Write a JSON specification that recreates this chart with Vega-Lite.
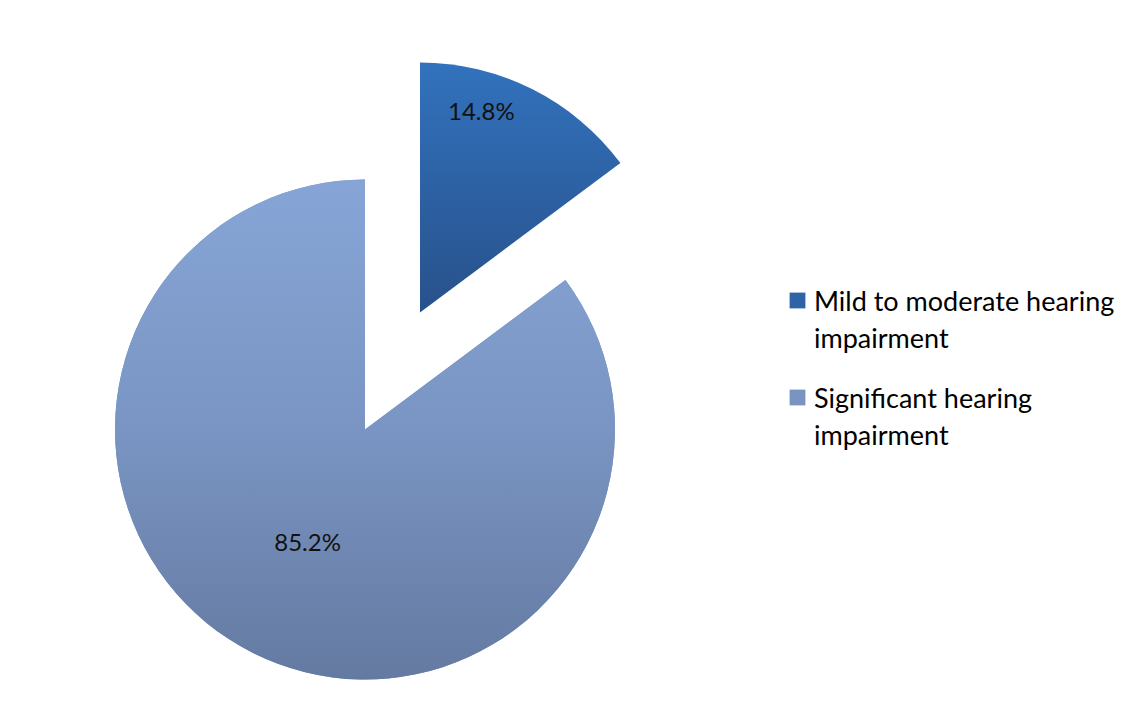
{
  "$schema": "https://vega.github.io/schema/vega-lite/v6.json",
  "autosize": {"type": "none"},
  "width": 730,
  "height": 585,
  "padding": {"left": 0, "top": 137, "right": 401, "bottom": 0},
  "background": "white",
  "data": {
    "values": [
      {"category": "Mild to moderate hearing impairment", "value": 14.8, "label": "14.8%", "order": 1},
      {"category": "Significant hearing impairment", "value": 85.2, "label": "85.2%", "order": 2}
    ]
  },
  "encoding": {
    "theta": {"field": "value", "type": "quantitative", "stack": true},
    "order": {"field": "order", "type": "quantitative"}
  },
  "layer": [
    {
      "mark": {"type": "arc", "outerRadius": 250},
      "encoding": {
        "color": {
          "field": "category",
          "type": "nominal",
          "scale": {
            "domain": ["Mild to moderate hearing impairment", "Significant hearing impairment"],
            "range": ["#2e63a6", "#7a94c2"]
          },
          "legend": {
            "orient": "none",
            "legendX": 784,
            "legendY": 150,
            "title": null,
            "symbolType": "square",
            "symbolSize": 250,
            "symbolStrokeWidth": 0,
            "labelFont": "Lato",
            "labelFontSize": 27,
            "labelColor": "#000000",
            "labelOffset": 3,
            "labelLimit": 600,
            "rowPadding": 31,
            "labelBaseline": "alphabetic",
            "labelExpr": "[slice(datum.label, 0, lastindexof(datum.label, ' ')), slice(datum.label, lastindexof(datum.label, ' ') + 1)]"
          }
        },
        "opacity": {"condition": {"test": "datum.order == 2", "value": 1}, "value": 0}
      }
    },
    {
      "mark": {
        "type": "arc",
        "outerRadius": 250,
        "fill": {
          "gradient": "linear", "x1": 0, "y1": 0, "x2": 0, "y2": 1,
          "stops": [{"offset": 0, "color": "#86a5d6"}, {"offset": 0.5, "color": "#7a95c3"}, {"offset": 1, "color": "#647aa1"}]
        }
      },
      "encoding": {
        "opacity": {"condition": {"test": "datum.order == 2", "value": 1}, "value": 0}
      }
    },
    {
      "mark": {
        "type": "arc",
        "outerRadius": 250,
        "xOffset": 55,
        "yOffset": -117,
        "fill": {
          "gradient": "linear", "x1": 0, "y1": 0, "x2": 0, "y2": 1,
          "stops": [{"offset": 0, "color": "#3272bd"}, {"offset": 1, "color": "#28518b"}]
        }
      },
      "encoding": {
        "opacity": {"condition": {"test": "datum.order == 1", "value": 1}, "value": 0}
      }
    },
    {
      "mark": {"type": "text", "radius": 128, "font": "Lato", "fontSize": 24, "color": "#111111", "align": "center", "baseline": "middle"},
      "encoding": {
        "text": {"field": "label", "type": "nominal"},
        "opacity": {"condition": {"test": "datum.order == 2", "value": 1}, "value": 0}
      }
    },
    {
      "mark": {"type": "text", "radius": 209, "thetaOffset": -0.167, "xOffset": 55, "yOffset": -117, "font": "Lato", "fontSize": 24, "color": "#111111", "align": "center", "baseline": "middle"},
      "encoding": {
        "text": {"field": "label", "type": "nominal"},
        "opacity": {"condition": {"test": "datum.order == 1", "value": 1}, "value": 0}
      }
    }
  ],
  "config": {
    "view": {"stroke": null},
    "style": {"guide-label": {"lineHeight": 37, "dy": 10}}
  }
}
